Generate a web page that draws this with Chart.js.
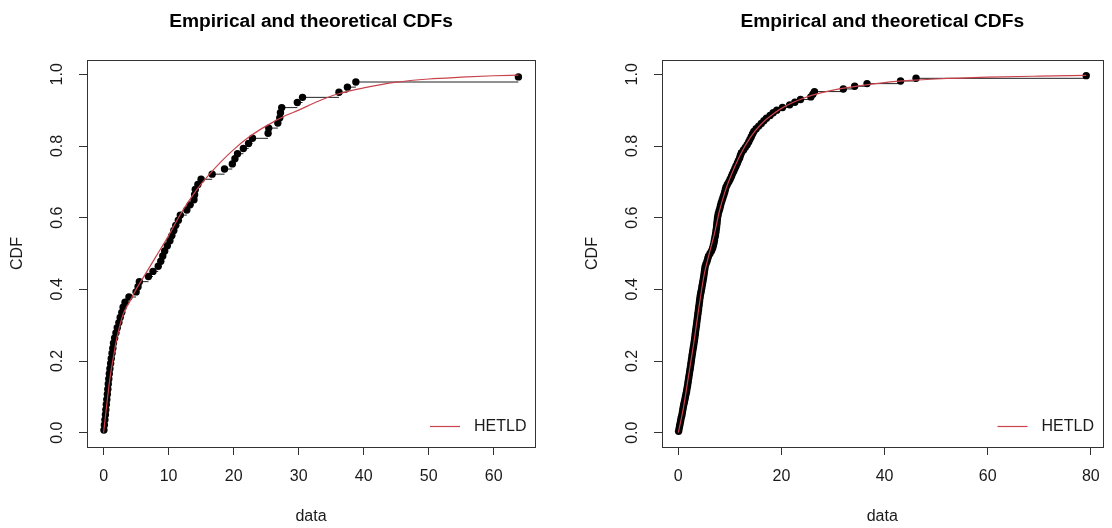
<!DOCTYPE html>
<html>
<head>
<meta charset="utf-8">
<title>Empirical and theoretical CDFs</title>
<script src="https://cdn.jsdelivr.net/npm/chart.js@4.4.1/dist/chart.umd.min.js"></script>
<style>
  html, body { margin: 0; padding: 0; background: #fff; }
  #wrap { display: flex; width: 1112px; height: 528px; }
  canvas { display: block; }
</style>
</head>
<body>
<div id="wrap">
  <canvas id="cdfLeft" width="556" height="528"></canvas>
  <canvas id="cdfRight" width="556" height="528"></canvas>
</div>
<script>
const chartTitle = "Empirical and theoretical CDFs";
const fitName = "HETLD";

// left sample, sorted
const leftData = [
  0.05, 0.12, 0.2, 0.28, 0.35, 0.42, 0.5, 0.58, 0.65, 0.72,
  0.8, 0.88, 0.97, 1.08, 1.18, 1.3, 1.42, 1.52, 1.7, 1.9,
  2.1, 2.35, 2.55, 2.8, 3.0, 3.3, 3.9, 5.0, 5.3, 5.5,
  6.9, 7.6, 8.4, 8.8, 9.1, 9.4, 9.8, 10.2, 10.5, 10.8,
  11.1, 11.5, 11.8, 12.8, 13.3, 13.9, 14.0, 14.1, 14.5, 15.0,
  16.7, 18.6, 19.8, 20.2, 20.6, 21.5, 22.3, 22.9, 25.3, 25.4,
  26.8, 27.1, 27.2, 27.4, 29.8, 30.6, 36.2, 37.5, 38.8, 63.8
];
// fitted HETLD cdf, left
const leftFitX = [0, 0.5, 1, 1.5, 2, 3, 4, 5, 6, 7, 8, 10, 12, 14, 16, 18, 20, 22, 24, 26, 28, 30, 33, 36, 40, 45, 50, 55, 60, 63.8];
const leftFitCdf = [0, 0.08, 0.155, 0.21, 0.26, 0.33, 0.365, 0.40, 0.43, 0.46, 0.49, 0.55, 0.615, 0.67, 0.715, 0.755, 0.79, 0.82, 0.845, 0.866, 0.885, 0.90, 0.925, 0.945, 0.962, 0.978, 0.987, 0.992, 0.996, 0.998];
const leftXTicks = [0, 10, 20, 30, 40, 50, 60];

// right sample, sorted
const rightData = [
  0.05, 0.15, 0.25, 0.35, 0.45, 0.55, 0.68, 0.78, 0.86, 0.95,
  1.05, 1.17, 1.28, 1.38, 1.48, 1.6, 1.68, 1.78, 1.86, 1.93,
  2.01, 2.09, 2.17, 2.25, 2.33, 2.41, 2.48, 2.55, 2.63, 2.7,
  2.78, 2.86, 2.95, 3.03, 3.11, 3.18, 3.25, 3.3, 3.37, 3.45,
  3.52, 3.58, 3.65, 3.72, 3.78, 3.85, 3.92, 3.98, 4.05, 4.12,
  4.18, 4.25, 4.35, 4.45, 4.55, 4.63, 4.72, 4.82, 4.9, 4.98,
  5.05, 5.12, 5.2, 5.35, 5.55, 5.7, 5.85, 6.15, 6.45, 6.65,
  6.8, 6.92, 7.0, 7.1, 7.2, 7.28, 7.35, 7.42, 7.47, 7.52,
  7.58, 7.65, 7.75, 7.9, 8.05, 8.18, 8.32, 8.48, 8.65, 8.82,
  8.98, 9.12, 9.25, 9.5, 9.8, 10.05, 10.3, 10.5, 10.75, 10.98,
  11.2, 11.45, 11.65, 11.9, 12.05, 12.25, 12.65, 13.0, 13.35, 13.65,
  13.9, 14.15, 14.4, 14.65, 15.1, 15.6, 16.1, 16.6, 17.1, 17.8,
  18.4, 19.1, 20.2, 21.6, 22.6, 23.7, 25.7, 26.1, 26.4, 32.0,
  34.2, 36.6, 43.1, 46.1, 79.1
];
// fitted HETLD cdf, right
const rightFitX = [0, 1, 2, 3, 4, 5, 6, 7, 8, 9, 10, 12, 14, 16, 18, 20, 22, 24, 26, 30, 35, 40, 45, 50, 60, 70, 79.1];
const rightFitCdf = [0, 0.07, 0.16, 0.25, 0.35, 0.44, 0.50, 0.555, 0.62, 0.67, 0.71, 0.775, 0.825, 0.86, 0.885, 0.905, 0.92, 0.932, 0.942, 0.956, 0.968, 0.977, 0.983, 0.987, 0.992, 0.995, 0.997];
const rightXTicks = [0, 20, 40, 60, 80];

const yTicks = [0, 0.2, 0.4, 0.6, 0.8, 1.0];

const FONT = "'Liberation Sans', Arial, sans-serif";
const fitColor = "#c9434c";
const axisColor = "#333";
const textColor = "#1a1a1a";

// frame around the plot region
const boxPlugin = {
  id: "box",
  afterDraw(chart) {
    const { ctx, chartArea: a } = chart;
    ctx.save();
    ctx.strokeStyle = axisColor;
    ctx.lineWidth = 1;
    ctx.strokeRect(Math.round(a.left) + 0.5, Math.round(a.top) + 0.5,
      Math.round(a.right - a.left), Math.round(a.bottom - a.top));
    ctx.restore();
  }
};

// legend sitting in the bottom-right corner, no frame
const cornerLegend = {
  id: "cornerLegend",
  afterDraw(chart) {
    const { ctx, chartArea: a } = chart;
    const y = Math.round(a.bottom - 21) + 0.5;
    ctx.save();
    ctx.strokeStyle = fitColor;
    ctx.lineWidth = 1.2;
    ctx.beginPath();
    ctx.moveTo(a.right - 105, y);
    ctx.lineTo(a.right - 75, y);
    ctx.stroke();
    ctx.fillStyle = textColor;
    ctx.font = "16px " + FONT;
    ctx.textBaseline = "middle";
    ctx.fillText(fitName, a.right - 61, y);
    ctx.restore();
  }
};

// plotting positions (i - 0.5) / n
function ecdfPoints(sample) {
  const n = sample.length;
  return sample.map((x, i) => ({ x: x, y: (i + 0.5) / n }));
}

// horizontal pieces of the step function only
function stepSegments(points) {
  const segs = [];
  for (let i = 0; i < points.length - 1; i++) {
    segs.push({ x: points[i].x, y: points[i].y });
    segs.push({ x: points[i + 1].x, y: points[i].y });
    segs.push({ x: points[i + 1].x, y: null });
  }
  return segs;
}

function makeChart(id, sample, fitX, fitCdf, xTicks, padLeft, padRight) {
  const pts = ecdfPoints(sample);
  const lo = sample[0] < 0 ? sample[0] : 0;
  const hi = sample[sample.length - 1];
  const ext = (hi - lo) * 0.04;

  const tickFont = { family: FONT, size: 16 };
  const gridOpts = { drawOnChartArea: false, drawTicks: true, tickLength: 8, color: axisColor, lineWidth: 1 };

  return new Chart(document.getElementById(id), {
    type: "scatter",
    data: {
      datasets: [
        {
          label: fitName,
          data: fitX.map((x, i) => ({ x: x, y: fitCdf[i] })),
          showLine: true,
          borderColor: fitColor,
          borderWidth: 1.2,
          pointRadius: 0,
          cubicInterpolationMode: "monotone"
        },
        {
          label: "empirical",
          data: pts,
          showLine: false,
          backgroundColor: "#000",
          borderWidth: 0,
          pointRadius: 3.7
        },
        {
          label: "steps",
          data: stepSegments(pts),
          showLine: true,
          spanGaps: false,
          borderColor: "#222",
          borderWidth: 1,
          pointRadius: 0
        }
      ]
    },
    options: {
      responsive: false,
      animation: false,
      devicePixelRatio: 1,
      events: [],
      layout: { padding: { left: padLeft, right: padRight, top: 0, bottom: 0 } },
      plugins: {
        legend: { display: false },
        tooltip: { enabled: false },
        title: {
          display: true,
          text: chartTitle,
          color: "#000",
          fullSize: false,
          font: { family: FONT, size: 19.2, weight: "bold", lineHeight: 1.2 },
          padding: { top: 10.5, bottom: 26.46 }
        }
      },
      scales: {
        x: {
          type: "linear",
          min: lo - ext,
          max: hi + ext,
          afterBuildTicks: s => { s.ticks = xTicks.map(v => ({ value: v })); },
          afterFit: s => { s.height = 81; },
          grid: gridOpts,
          border: { display: false },
          ticks: { color: textColor, font: tickFont, padding: 12, minRotation: 0, maxRotation: 0 },
          title: { display: true, text: "data", color: textColor, font: tickFont, padding: { top: 0, bottom: 2 } }
        },
        y: {
          type: "linear",
          min: -0.04,
          max: 1.04,
          afterBuildTicks: s => { s.ticks = yTicks.map(v => ({ value: v })); },
          afterFit: s => { s.width = 87; },
          grid: gridOpts,
          border: { display: false },
          ticks: {
            color: textColor, font: tickFont, padding: 10,
            minRotation: 90, maxRotation: 90, crossAlign: "center",
            callback: v => v.toFixed(1)
          },
          title: { display: true, text: "CDF", color: textColor, font: tickFont, padding: { top: 8, bottom: 0 } }
        }
      }
    },
    plugins: [boxPlugin, cornerLegend]
  });
}

makeChart("cdfLeft", leftData, leftFitX, leftFitCdf, leftXTicks, 0, 21);
makeChart("cdfRight", rightData, rightFitX, rightFitCdf, rightXTicks, 19, 3);
</script>
</body>
</html>
